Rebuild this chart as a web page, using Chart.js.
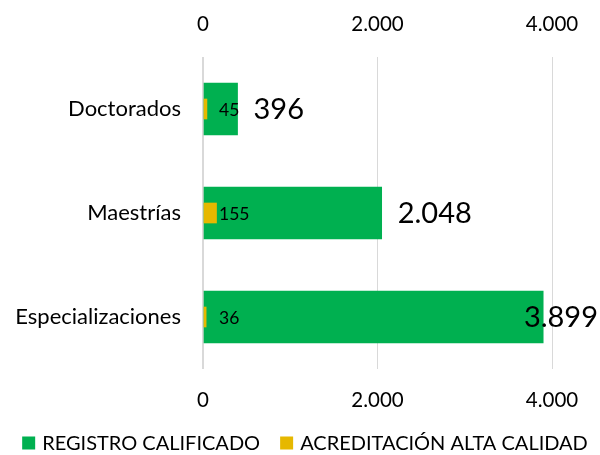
<!DOCTYPE html>
<html><head><meta charset="utf-8">
<script src="https://cdn.jsdelivr.net/npm/chart.js@4"></script>
<style>html,body{margin:0;padding:0;background:#fff}</style>
</head><body>
<canvas id="c" width="600" height="455"></canvas>
<script>
const categories = ['Doctorados', 'Maestrías', 'Especializaciones'];
const registroCalificado = [396, 2048, 3899];
const acreditacionAltaCalidad = [45, 155, 36];
const seriesNames = ['REGISTRO CALIFICADO', 'ACREDITACIÓN ALTA CALIDAD'];
const seriesColors = ['#00B050', '#E6B800'];
const axisMin = 0, axisMax = 4000, axisStep = 2000;

const FONT = 'Lato, "Open Sans", sans-serif';
function fmt(v){ return String(Math.round(v)).replace(/\B(?=(\d{3})+(?!\d))/g, '.'); }

const labelPlugin = {
  id: 'valueLabels',
  afterDatasetsDraw(chart) {
    const ctx = chart.ctx;
    const base = chart.scales.x.getPixelForValue(0);
    ctx.save();
    ctx.textBaseline = 'middle';
    ctx.textAlign = 'left';
    ctx.fillStyle = '#000';
    chart.getDatasetMeta(0).data.forEach((el, i) => {
      const t = fmt(chart.data.datasets[0].data[i]);
      ctx.font = '29px ' + FONT;
      const w = ctx.measureText(t).width;
      let x = el.x + 16;
      if (x + w > chart.width - 2) x = chart.width - 2 - w;
      ctx.fillText(t, x, el.y + 1);
    });
    chart.getDatasetMeta(1).data.forEach((el, i) => {
      const t = fmt(chart.data.datasets[1].data[i]);
      ctx.font = '17.5px ' + FONT;
      const x = Math.max(base + 16, el.x + 2);
      ctx.fillText(t, x, el.y + 1);
    });
    ctx.restore();
  }
};

// Legend drawn from the chart's own datasets, on one row like the reference
const legendPlugin = {
  id: 'rowLegend',
  afterDraw(chart) {
    const ctx = chart.ctx;
    ctx.save();
    ctx.font = '20px ' + FONT;
    ctx.textBaseline = 'middle';
    ctx.textAlign = 'left';
    const ds = chart.data.datasets;
    const box = 13, gapBox = 7, gapItem = 20;
    const widths = ds.map(d => box + gapBox + ctx.measureText(d.label).width);
    const total = widths.reduce((a, b) => a + b, 0) + gapItem * (ds.length - 1);
    let x = 305 - total / 2;
    const y = 443;
    ds.forEach((d, i) => {
      ctx.fillStyle = d.backgroundColor;
      ctx.fillRect(x, y - box / 2, box, box);
      ctx.fillStyle = '#000';
      ctx.fillText(d.label, x + box + gapBox, y + 1);
      x += widths[i] + gapItem;
    });
    ctx.restore();
  }
};

const tickFont = { family: FONT, size: 20.5 };
const catFont = { family: FONT, size: 22 };

new Chart(document.getElementById('c'), {
  type: 'bar',
  data: {
    labels: categories,
    datasets: [
      { label: seriesNames[0], data: registroCalificado, backgroundColor: seriesColors[0], barThickness: 52, grouped: false, order: 2 },
      { label: seriesNames[1], data: acreditacionAltaCalidad, backgroundColor: seriesColors[1], barThickness: 20, grouped: false, order: 1 }
    ]
  },
  options: {
    indexAxis: 'y',
    responsive: false,
    animation: false,
    devicePixelRatio: 1,
    layout: { padding: { left: 0, right: 48, top: 0, bottom: 0 } },
    scales: {
      x: {
        type: 'linear', position: 'bottom', min: axisMin, max: axisMax,
        ticks: { stepSize: axisStep, callback: v => fmt(v), font: tickFont, color: '#000', padding: 19 },
        grid: { color: '#d9d9d9', lineWidth: c => c.tick && c.tick.value === 0 ? 2 : 1, drawTicks: false },
        border: { display: false },
        afterFit: s => { s.height = 86; }
      },
      x2: {
        type: 'linear', axis: 'x', position: 'top', min: axisMin, max: axisMax,
        ticks: { stepSize: axisStep, callback: v => fmt(v), font: tickFont, color: '#000', padding: 20 },
        grid: { display: false, drawTicks: false },
        border: { display: false },
        afterFit: s => { s.height = 57; }
      },
      y: {
        type: 'category',
        ticks: { font: catFont, color: '#000', padding: 22 },
        grid: { display: false, drawTicks: false },
        border: { display: false },
        afterFit: s => { s.width = 203; }
      }
    },
    plugins: {
      legend: { display: false },
      tooltip: { enabled: false }
    }
  },
  plugins: [labelPlugin, legendPlugin]
});
</script>
</body></html>
